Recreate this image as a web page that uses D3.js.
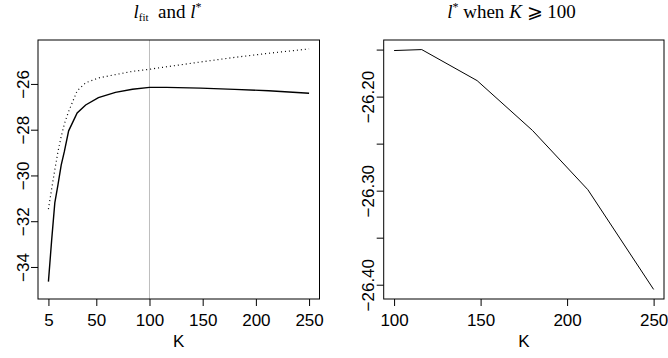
<!DOCTYPE html>
<html>
<head>
<meta charset="utf-8">
<script src="https://cdn.jsdelivr.net/npm/d3@7/dist/d3.min.js"></script>
<style>
  html, body { margin: 0; padding: 0; background: #fff; }
  svg { display: block; }
  .axis text { font-family: "Liberation Sans", Arial, sans-serif; font-size: 17px; fill: #000; }
  .axis line { stroke: #000; stroke-width: 1; }
  .title { font-family: "Liberation Serif", "Times New Roman", serif; font-size: 19px; fill: #000; }
</style>
</head>
<body>
<svg id="chart" width="668" height="358"></svg>
<script>
// Number of components K
const kValues = [5, 8, 11, 14, 17, 20, 24, 32, 40, 52, 68, 84, 100, 116, 148, 180, 212, 250];
// l* (solid) and l_fit (dotted) for each K
const lStar = [-34.64, -32.85, -31.2, -30.4, -29.55, -28.95, -28.05, -27.27, -26.92, -26.6, -26.37, -26.23,
               -26.151, -26.150, -26.183, -26.236, -26.299, -26.405];
const lFit  = [-31.47, -30.6, -29.75, -28.95, -28.3, -27.75, -27.2, -26.3, -25.95, -25.74, -25.59, -25.45,
               -25.36, -25.25, -25.04, -24.84, -24.66, -24.47];

// Tick marks
const leftXTicks = [5, 50, 100, 150, 200, 250];
const leftYTicks = [-34, -32, -30, -28, -26];
const rightXTicks = [100, 150, 200, 250];
const rightYTicks = [-26.40, -26.35, -26.30, -26.25, -26.20, -26.15];
const rightYLabelled = [-26.40, -26.30, -26.20];
const kCut = 100;

const svg = d3.select("#chart");
const fmtMinus = s => s.replace("-", "\u2212");

// R-style padded extent (4% on each side)
function padded(ext) {
  const d = (ext[1] - ext[0]) * 0.04;
  return [ext[0] - d, ext[1] + d];
}

function drawPanel(opts) {
  const { x0, x1, y0, y1, xDomain, yDomain, xTicks, yTicks, yFormat } = opts;
  const x = d3.scaleLinear().domain(xDomain).range([x0, x1]);
  const y = d3.scaleLinear().domain(yDomain).range([y1, y0]);
  const g = svg.append("g");

  const xAxis = g.append("g").attr("class", "axis")
    .attr("transform", `translate(0,${y1})`)
    .call(d3.axisBottom(x).tickValues(xTicks).tickSize(7).tickSizeOuter(0).tickPadding(8).tickFormat(d3.format("d")));
  xAxis.select(".domain").remove();

  const yAxis = g.append("g").attr("class", "axis")
    .attr("transform", `translate(${x0},0)`)
    .call(d3.axisLeft(y).tickValues(yTicks).tickSize(7).tickSizeOuter(0).tickFormat(yFormat));
  yAxis.select(".domain").remove();
  yAxis.selectAll("text")
    .attr("transform", "rotate(-90)")
    .attr("x", 0).attr("y", -9.5).attr("dy", 0)
    .attr("text-anchor", "middle");

  // x-axis title
  g.append("text").attr("class", "axis")
    .attr("x", (x0 + x1) / 2).attr("y", 347)
    .attr("text-anchor", "middle")
    .style("font-family", "'Liberation Sans', Arial, sans-serif")
    .style("font-size", "17px")
    .text("K");

  return { g, x, y, frame: () => g.append("rect")
    .attr("x", x0).attr("y", y0).attr("width", x1 - x0).attr("height", y1 - y0)
    .attr("fill", "none").attr("stroke", "#000").attr("stroke-width", 1) };
}

// ---- Left panel: l_fit and l* over all K ----
const left = drawPanel({
  x0: 38, x1: 319.5, y0: 40, y1: 299,
  xDomain: padded(d3.extent(kValues)),
  yDomain: [-35.4, -24.08],
  xTicks: leftXTicks, yTicks: leftYTicks,
  yFormat: d => fmtMinus(d3.format("d")(d))
});

left.g.append("line")
  .attr("x1", left.x(kCut)).attr("x2", left.x(kCut))
  .attr("y1", 40).attr("y2", 299)
  .attr("stroke", "#bebebe").attr("stroke-width", 1);

const leftLine = d3.line().x(d => left.x(d[0])).y(d => left.y(d[1]));
left.g.append("path")
  .datum(kValues.map((k, i) => [k, lFit[i]]))
  .attr("d", leftLine).attr("fill", "none")
  .attr("stroke", "#000").attr("stroke-width", 1.2).attr("stroke-dasharray", "1,3");
left.g.append("path")
  .datum(kValues.map((k, i) => [k, lStar[i]]))
  .attr("d", leftLine).attr("fill", "none")
  .attr("stroke", "#000").attr("stroke-width", 1.4);
left.frame();

// ---- Right panel: l* for K >= 100 ----
const sub = kValues.map((k, i) => [k, lStar[i]]).filter(d => d[0] >= kCut);
const right = drawPanel({
  x0: 383.7, x1: 664, y0: 40, y1: 299,
  xDomain: padded(d3.extent(sub, d => d[0])),
  yDomain: padded(d3.extent(sub, d => d[1])),
  xTicks: rightXTicks, yTicks: rightYTicks,
  yFormat: d => rightYLabelled.some(v => Math.abs(v - d) < 1e-9) ? fmtMinus(d3.format(".2f")(d)) : ""
});
right.g.append("path")
  .datum(sub)
  .attr("d", d3.line().x(d => right.x(d[0])).y(d => right.y(d[1])))
  .attr("fill", "none").attr("stroke", "#000").attr("stroke-width", 1);
right.frame();

// ---- Titles ----
const t1 = svg.append("text").attr("class", "title").attr("x", 167.5).attr("y", 18).attr("text-anchor", "middle");
t1.append("tspan").style("font-style", "italic").text("l");
t1.append("tspan").attr("dy", 3).style("font-size", "11px").text("fit");
t1.append("tspan").attr("dy", -3).text("\u2002and ");
t1.append("tspan").style("font-style", "italic").text("l");
t1.append("tspan").attr("dy", -7).style("font-size", "12px").text("*");

const t2 = svg.append("text").attr("class", "title").attr("x", 511.5).attr("y", 18).attr("text-anchor", "middle");
t2.append("tspan").style("font-style", "italic").text("l");
t2.append("tspan").attr("dy", -7).style("font-size", "12px").text("*");
t2.append("tspan").attr("dy", 7).text(" when ");
t2.append("tspan").style("font-style", "italic").text("K");
t2.append("tspan").text(" \u2A7E 100");
</script>
</body>
</html>
